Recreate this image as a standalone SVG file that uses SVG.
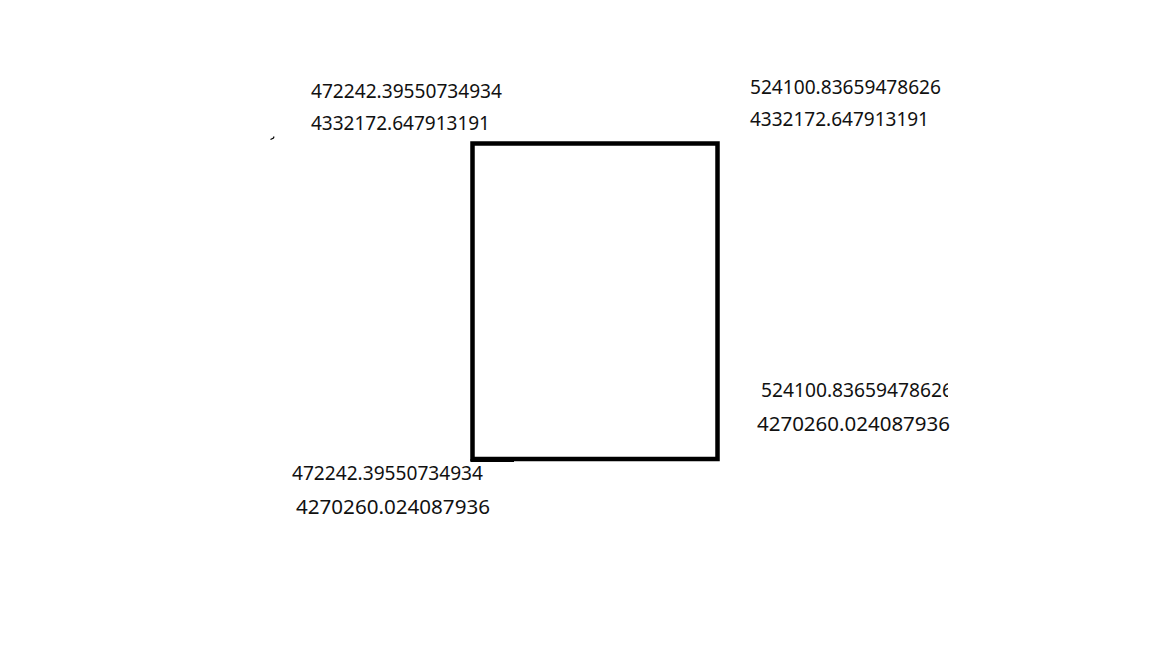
<svg xmlns="http://www.w3.org/2000/svg" width="1152" height="648" viewBox="0 0 1152 648">
<style>
.lbl{font-family:"Noto Sans","Liberation Sans",sans-serif;font-size:19.5px;fill:#111;}
.box{fill:none;stroke:#000;stroke-width:4.5;}
</style>
<defs><clipPath id="cr"><rect x="740" y="370" width="208" height="40"/></clipPath></defs>
<rect width="1152" height="648" fill="#fff"/>
<g id="mark"><path d="M270.5 139.5 L273.5 138 L274 136.5" fill="none" stroke="#000" stroke-width="1.2"/></g>
<g id="box">
<rect class="box" x="472.5" y="143.5" width="245" height="315.5"/>
<path d="M470.5 460.5 H514" stroke="#000" stroke-width="3" fill="none"/>
</g>
<g id="tl">
<text class="lbl" x="311" y="98" textLength="191" lengthAdjust="spacingAndGlyphs">472242.39550734934</text>
<text class="lbl" x="311" y="130" textLength="179" lengthAdjust="spacingAndGlyphs">4332172.647913191</text>
</g>
<g id="tr">
<text class="lbl" x="750" y="94" textLength="191" lengthAdjust="spacingAndGlyphs">524100.83659478626</text>
<text class="lbl" x="750" y="126" textLength="179" lengthAdjust="spacingAndGlyphs">4332172.647913191</text>
</g>
<g id="br">
<text class="lbl" x="761" y="397" textLength="192" lengthAdjust="spacingAndGlyphs" clip-path="url(#cr)">524100.83659478626</text>
<text class="lbl" x="757" y="431" textLength="193" lengthAdjust="spacingAndGlyphs">4270260.024087936</text>
</g>
<g id="bl">
<text class="lbl" x="292" y="480" textLength="191" lengthAdjust="spacingAndGlyphs">472242.39550734934</text>
<text class="lbl" x="296" y="514" textLength="194" lengthAdjust="spacingAndGlyphs">4270260.024087936</text>
</g>
<g id="connectors"></g>
</svg>
